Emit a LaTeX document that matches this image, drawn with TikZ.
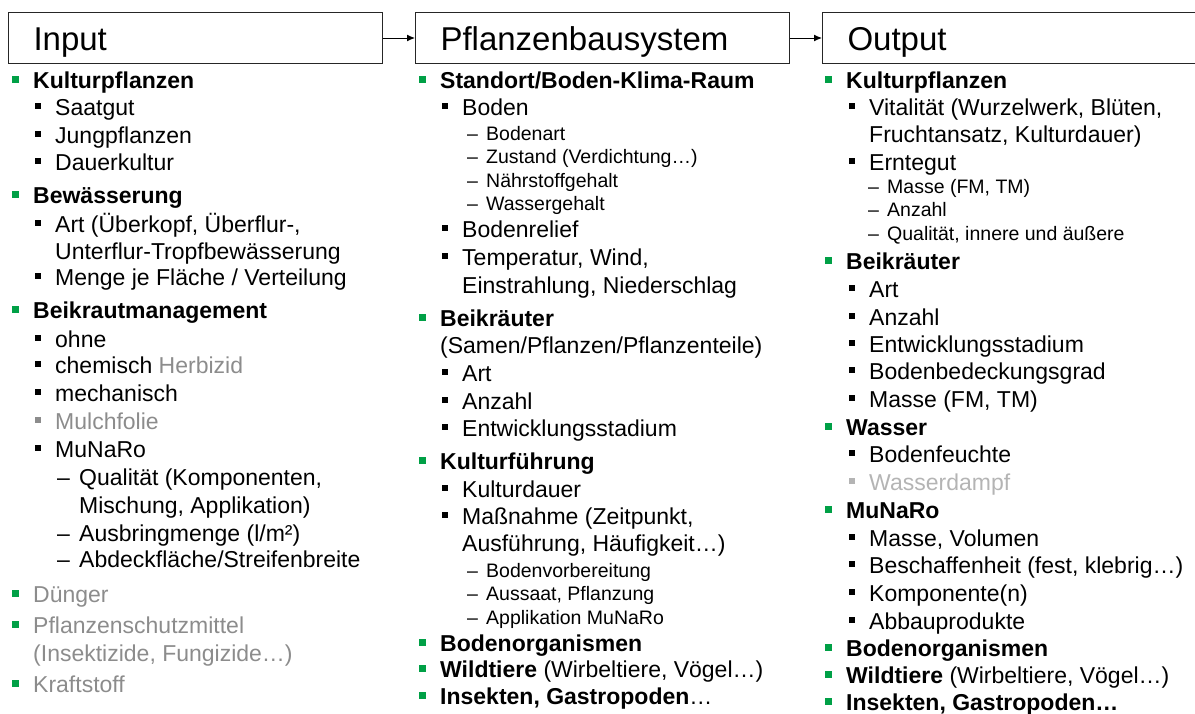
\documentclass[tikz,border=0pt]{standalone}
\usepackage{fontspec}
\setmainfont{Liberation Sans}
\usepackage{xcolor}
\usetikzlibrary{arrows.meta}

\definecolor{bulgreen}{RGB}{0,160,70}
\definecolor{fadegrey}{RGB}{140,140,140}
\definecolor{palegrey}{RGB}{180,180,180}

\tikzset{
  headbox/.style={draw=black!85, line width=1pt, anchor=north west,
    minimum height=51pt, text height=24pt, text depth=0pt,
    inner xsep=25pt, align=left, font=\fontsize{33}{40}\selectfont},
  flow/.style={-{Latex[length=8pt,width=7pt]}, line width=1pt},
  txtbig/.style={anchor=base west, inner sep=0pt, font=\fontsize{23}{27}\selectfont},
  txtsmall/.style={anchor=base west, inner sep=0pt, font=\fontsize{19.5}{23}\selectfont},
  % bullets of the three levels
  lvA/.style={txtbig, execute at begin node={\llap{\makebox[21pt][l]{\color{#1}\rule[5.5pt]{7pt}{7pt}}}}},
  lvA/.default=bulgreen,
  lvB/.style={txtbig, execute at begin node={\llap{\makebox[20pt][l]{\color{#1}\rule[6.5pt]{6pt}{6pt}}}}},
  lvB/.default=black,
  lvC/.style={txtbig, execute at begin node={\llap{\makebox[22pt][l]{–}}}},
  lvCs/.style={txtsmall, execute at begin node={\llap{\makebox[19pt][l]{–}}}}
}

\begin{document}
\begin{tikzpicture}[x=1pt, y=-1pt]
    \useasboundingbox (0,0) rectangle (1195,713);

    % Header boxes
    \node[headbox, text width=324pt] (input) at (8,12) {Input};
    \node[headbox, text width=324pt] (system) at (415,12) {Pflanzenbausystem};
    \node[headbox, text width=360pt] (output) at (822,12) {Output};

    \draw[flow] (input.east) -- (system.west);
    \draw[flow] (system.east) -- (output.west);

    % Input column
    \node[lvA] (in1) at (33,88) {\textbf{Kulturpflanzen}};
    \node[lvB] (in2) at (55,115) {Saatgut};
    \node[lvB] (in3) at (55,143) {Jungpflanzen};
    \node[lvB] (in4) at (55,170) {Dauerkultur};
    \node[lvA] (in5) at (33,203) {\textbf{Bewässerung}};
    \node[lvB] (in6) at (55,232) {Art (Überkopf, Überflur-,};
    \node[txtbig] (in7) at (55,259) {Unterflur-Tropfbewässerung};
    \node[lvB] (in8) at (55,285) {Menge je Fläche / Verteilung};
    \node[lvA] (in9) at (33,318) {\textbf{Beikrautmanagement}};
    \node[lvB] (in10) at (55,347) {ohne};
    \node[lvB] (in11) at (55,373) {chemisch \textcolor{fadegrey}{Herbizid}};
    \node[lvB] (in12) at (55,401) {mechanisch};
    \node[lvB=fadegrey, text=fadegrey] (in13) at (55,429) {Mulchfolie};
    \node[lvB] (in14) at (55,457) {MuNaRo};
    \node[lvC] (in15) at (79,485) {Qualität (Komponenten,};
    \node[txtbig] (in16) at (79,513) {Mischung, Applikation)};
    \node[lvC] (in17) at (79,541) {Ausbringmenge (l/m²)};
    \node[lvC] (in18) at (79,567) {Abdeckfläche/Streifenbreite};
    \node[lvA, text=fadegrey] (in19) at (33,602) {Dünger};
    \node[lvA, text=fadegrey] (in20) at (33,633) {Pflanzenschutzmittel};
    \node[txtbig, text=fadegrey] (in21) at (33,661) {(Insektizide, Fungizide…)};
    \node[lvA, text=fadegrey] (in22) at (33,692) {Kraftstoff};

    % Pflanzenbausystem column
    \node[lvA] (sys1) at (440,88) {\textbf{Standort/Boden-Klima-Raum}};
    \node[lvB] (sys2) at (462,115) {Boden};
    \node[lvCs] (sys3) at (486,140) {Bodenart};
    \node[lvCs] (sys4) at (486,163) {Zustand (Verdichtung…)};
    \node[lvCs] (sys5) at (486,187) {Nährstoffgehalt};
    \node[lvCs] (sys6) at (486,210) {Wassergehalt};
    \node[lvB] (sys7) at (462,237) {Bodenrelief};
    \node[lvB] (sys8) at (462,265) {Temperatur, Wind,};
    \node[txtbig] (sys9) at (462,293) {Einstrahlung, Niederschlag};
    \node[lvA] (sys10) at (440,326) {\textbf{Beikräuter}};
    \node[txtbig] (sys11) at (440,353) {(Samen/Pflanzen/Pflanzenteile)};
    \node[lvB] (sys12) at (462,381) {Art};
    \node[lvB] (sys13) at (462,409) {Anzahl};
    \node[lvB] (sys14) at (462,436) {Entwicklungsstadium};
    \node[lvA] (sys15) at (440,469) {\textbf{Kulturführung}};
    \node[lvB] (sys16) at (462,497) {Kulturdauer};
    \node[lvB] (sys17) at (462,524) {Maßnahme (Zeitpunkt,};
    \node[txtbig] (sys18) at (462,551) {Ausführung, Häufigkeit…)};
    \node[lvCs] (sys19) at (486,577) {Bodenvorbereitung};
    \node[lvCs] (sys20) at (486,600) {Aussaat, Pflanzung};
    \node[lvCs] (sys21) at (486,624) {Applikation MuNaRo};
    \node[lvA] (sys22) at (440,651) {\textbf{Bodenorganismen}};
    \node[lvA] (sys23) at (440,677) {\textbf{Wildtiere} (Wirbeltiere, Vögel…)};
    \node[lvA] (sys24) at (440,704) {\textbf{Insekten, Gastropoden}…};

    % Output column
    \node[lvA] (out1) at (846,88) {\textbf{Kulturpflanzen}};
    \node[lvB] (out2) at (869,115) {Vitalität (Wurzelwerk, Blüten,};
    \node[txtbig] (out3) at (869,142) {Fruchtansatz, Kulturdauer)};
    \node[lvB] (out4) at (869,170) {Erntegut};
    \node[lvCs] (out5) at (887,193) {Masse (FM, TM)};
    \node[lvCs] (out6) at (887,216) {Anzahl};
    \node[lvCs] (out7) at (887,240) {Qualität, innere und äußere};
    \node[lvA] (out8) at (846,269) {\textbf{Beikräuter}};
    \node[lvB] (out9) at (869,297) {Art};
    \node[lvB] (out10) at (869,325) {Anzahl};
    \node[lvB] (out11) at (869,352) {Entwicklungsstadium};
    \node[lvB] (out12) at (869,379) {Bodenbedeckungsgrad};
    \node[lvB] (out13) at (869,407) {Masse (FM, TM)};
    \node[lvA] (out14) at (846,435) {\textbf{Wasser}};
    \node[lvB] (out15) at (869,462) {Bodenfeuchte};
    \node[lvB=palegrey, text=palegrey] (out16) at (869,490) {Wasserdampf};
    \node[lvA] (out17) at (846,518) {\textbf{MuNaRo}};
    \node[lvB] (out18) at (869,546) {Masse, Volumen};
    \node[lvB] (out19) at (869,573) {Beschaffenheit (fest, klebrig…)};
    \node[lvB] (out20) at (869,601) {Komponente(n)};
    \node[lvB] (out21) at (869,629) {Abbauprodukte};
    \node[lvA] (out22) at (846,656) {\textbf{Bodenorganismen}};
    \node[lvA] (out23) at (846,683) {\textbf{Wildtiere} (Wirbeltiere, Vögel…)};
    \node[lvA] (out24) at (846,710) {\textbf{Insekten, Gastropoden…}};

\end{tikzpicture}
\end{document}
